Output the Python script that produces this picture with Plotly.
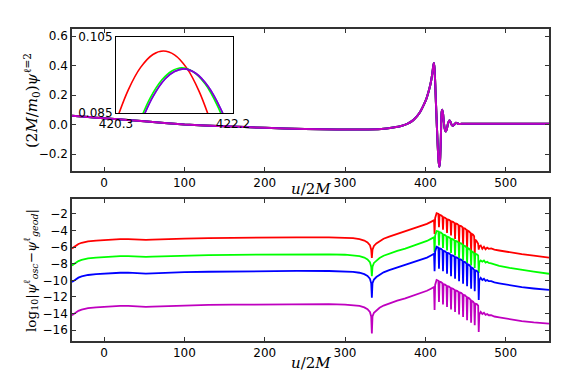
import plotly.graph_objects as go

# ---- top panel: waveform psi(u) ----
u_wave = [-40, -20, 0, 50, 100, 150, 200, 250, 290, 320,
          345, 360, 370, 378, 385, 390, 394, 398, 401.5, 404.5,
          407, 408.8, 409.9, 410.6, 411.4, 412.3, 413.2, 414.2, 415.3, 416.4,
          417.3, 418.2, 419.2, 420.3, 421.07, 422, 423, 424.2, 425.5, 426.8,
          428.3, 429.8, 431.2, 433, 434.5, 436.3, 438.2, 440, 442, 445,
          460, 500, 554]
psi_wave = [0.059, 0.051, 0.043, 0.022, 0.001, -0.012, -0.022, -0.030, -0.034, -0.034,
            -0.030, -0.020, -0.010, 0.006, 0.030, 0.058, 0.090, 0.133, 0.178, 0.232,
            0.290, 0.350, 0.398, 0.418, 0.385, 0.280, 0.150, 0.010, -0.130, -0.240,
            -0.287, -0.255, -0.120, 0.083, 0.101, 0.075, 0.020, -0.030, -0.048, -0.030,
            0.008, 0.027, 0.020, -0.004, -0.009, 0.002, 0.013, 0.008, 0.003, 0.005,
            0.005, 0.005, 0.005]

# ---- inset: zoom on the second maximum ----
u_in_red = [420.30, 420.50, 420.70, 420.90, 421.07, 421.25, 421.45, 421.65, 421.85]
psi_in_red = [0.0827, 0.0911, 0.0970, 0.1004, 0.1013, 0.1003, 0.0968, 0.0907, 0.0821]
u_in_green = [420.65, 420.85, 421.05, 421.20, 421.37, 421.55, 421.75, 421.95, 422.10]
psi_in_green = [0.0813, 0.0888, 0.0938, 0.0960, 0.0969, 0.0959, 0.0926, 0.0868, 0.0809]
u_in_purple = [420.70, 420.90, 421.10, 421.25, 421.40, 421.60, 421.80, 422.00, 422.15]
psi_in_purple = [0.0823, 0.0893, 0.0940, 0.0959, 0.0966, 0.0954, 0.0919, 0.0861, 0.0802]

# ---- bottom panel: log10 |psi_osc - psi_geod| ----
u_diff = [-40, -36, -32, -28, -24, -20, -10, 0, 10, 20,
          30, 38, 45, 52, 60, 80, 100, 130, 160, 200,
          240, 280, 300, 310, 318, 324, 328, 331, 332.6, 333.4,
          334.2, 336, 339, 343, 348, 355, 365, 375, 385, 395,
          402, 407, 410.8,
          411.5, 412.2, 414, 416.3,
          417, 417.7, 419.5, 421.3,
          422, 422.7, 424.5, 426.3,
          427, 427.7, 429.5, 431.3,
          432, 432.7, 434.5, 436.3,
          437, 437.7, 439.5, 441.3,
          442, 442.7, 444.5, 446.3,
          447, 447.7, 449.5, 451.3,
          452, 452.7, 454.5, 456.3,
          457, 457.7, 459.5, 460.8,
          461.5, 462.2, 464, 465.8,
          466.5, 467.2, 469,
          471, 473, 475, 477, 479, 482, 486, 492, 505, 520, 535, 554]

log_red = [-6.15, -5.85, -5.62, -5.47, -5.37, -5.30, -5.20, -5.13, -5.07, -5.03,
           -5.02, -5.06, -5.12, -5.13, -5.10, -5.02, -4.96, -4.91, -4.87, -4.83,
           -4.81, -4.82, -4.86, -4.92, -5.03, -5.20, -5.42, -5.75, -6.30, -7.30,
           -6.30, -5.85, -5.55, -5.25, -4.98, -4.72, -4.40, -4.12, -3.80, -3.45,
           -3.20, -2.95, -2.75,
           -4.40, -2.50, -1.90, -2.00,
           -3.60, -2.10, -2.15, -2.30,
           -3.90, -2.40, -2.45, -2.60,
           -4.30, -2.65, -2.70, -2.85,
           -4.60, -2.90, -2.95, -3.10,
           -5.00, -3.15, -3.20, -3.35,
           -5.40, -3.40, -3.45, -3.60,
           -5.80, -3.70, -3.75, -3.95,
           -6.20, -4.00, -4.10, -4.30,
           -6.60, -4.40, -4.50, -4.70,
           -7.00, -5.10, -5.30, -5.60,
           -6.30, -5.90, -5.80,
           -6.20, -5.95, -6.25, -6.05, -6.20, -6.15, -6.30, -6.40, -6.62, -6.85, -7.03, -7.25]

log_green = [-8.20, -7.90, -7.67, -7.52, -7.42, -7.35, -7.25, -7.18, -7.12, -7.08,
             -7.07, -7.11, -7.17, -7.18, -7.15, -7.07, -7.01, -6.96, -6.92, -6.88,
             -6.86, -6.87, -6.91, -6.97, -7.08, -7.25, -7.47, -7.80, -8.35, -9.50,
             -8.35, -7.90, -7.60, -7.30, -7.03, -6.77, -6.45, -6.17, -5.85, -5.50,
             -5.25, -5.00, -4.80,
             -6.60, -4.60, -4.05, -4.10,
             -5.80, -4.20, -4.25, -4.40,
             -6.10, -4.50, -4.55, -4.70,
             -6.40, -4.75, -4.80, -4.95,
             -6.70, -5.00, -5.05, -5.20,
             -7.00, -5.25, -5.30, -5.45,
             -7.30, -5.50, -5.55, -5.70,
             -7.60, -5.80, -5.85, -6.05,
             -7.90, -6.10, -6.20, -6.40,
             -8.20, -6.50, -6.60, -6.75,
             -8.50, -6.80, -6.85, -7.00,
             -9.10, -7.80, -7.60,
             -7.75, -7.60, -7.85, -7.75, -7.90, -7.95, -8.10, -8.25, -8.50, -8.75, -8.95, -9.20]

log_blue = [-10.20, -9.90, -9.67, -9.52, -9.42, -9.35, -9.25, -9.18, -9.12, -9.08,
            -9.07, -9.11, -9.17, -9.18, -9.15, -9.07, -9.01, -8.96, -8.92, -8.88,
            -8.86, -8.87, -8.91, -8.97, -9.08, -9.25, -9.47, -9.80, -10.35, -12.10,
            -10.35, -9.90, -9.60, -9.30, -9.03, -8.77, -8.45, -8.17, -7.85, -7.50,
            -7.25, -7.00, -6.80,
            -8.90, -6.55, -5.95, -6.05,
            -8.60, -6.15, -6.20, -6.35,
            -8.90, -6.45, -6.50, -6.65,
            -9.20, -6.70, -6.75, -6.90,
            -9.50, -6.95, -7.00, -7.15,
            -9.80, -7.20, -7.25, -7.40,
            -10.10, -7.45, -7.50, -7.65,
            -10.40, -7.75, -7.80, -8.00,
            -10.70, -8.05, -8.15, -8.35,
            -11.00, -8.45, -8.55, -8.75,
            -11.30, -8.80, -8.85, -9.05,
            -12.35, -10.00, -9.70,
            -9.95, -9.80, -10.05, -9.95, -10.10, -10.10, -10.25, -10.35, -10.60, -10.82, -10.98, -11.15]

log_magenta = [-14.20, -13.90, -13.67, -13.52, -13.42, -13.35, -13.25, -13.18, -13.12, -13.08,
               -13.07, -13.11, -13.17, -13.18, -13.15, -13.07, -13.01, -12.96, -12.92, -12.88,
               -12.86, -12.87, -12.91, -12.97, -13.08, -13.25, -13.47, -13.80, -14.35, -16.40,
               -14.35, -13.90, -13.60, -13.30, -13.03, -12.77, -12.45, -12.17, -11.85, -11.50,
               -11.25, -11.00, -10.80,
               -13.55, -10.55, -9.95, -10.05,
               -12.60, -10.15, -10.20, -10.35,
               -12.90, -10.45, -10.50, -10.65,
               -13.20, -10.70, -10.75, -10.90,
               -13.50, -10.95, -11.00, -11.15,
               -13.80, -11.20, -11.25, -11.40,
               -14.10, -11.45, -11.50, -11.65,
               -14.40, -11.75, -11.80, -12.00,
               -14.80, -12.05, -12.15, -12.35,
               -15.10, -12.45, -12.55, -12.75,
               -15.40, -12.80, -12.85, -13.05,
               -16.20, -14.10, -13.80,
               -14.05, -13.90, -14.15, -14.05, -14.20, -14.20, -14.35, -14.45, -14.68, -14.90, -15.05, -15.20]

x_ticks = [0, 100, 200, 300, 400, 500]
psi_ticks = [-0.2, 0.0, 0.2, 0.4, 0.6]
log_ticks = [-16, -14, -12, -10, -8, -6, -4, -2]

RED, GREEN, BLUE, MAG = '#ff0000', '#00ff00', '#0000ff', '#bf00bf'

fig = go.Figure()

for col in (RED, GREEN, BLUE, MAG):
    fig.add_trace(go.Scatter(x=u_wave, y=psi_wave, mode='lines', xaxis='x', yaxis='y',
                             line=dict(color=col, width=2, shape='spline', smoothing=0.6)))

for col, series in ((RED, log_red), (GREEN, log_green), (BLUE, log_blue), (MAG, log_magenta)):
    fig.add_trace(go.Scatter(x=u_diff, y=series, mode='lines', xaxis='x2', yaxis='y2',
                             line=dict(color=col, width=1.8)))

inset = [(u_in_red, psi_in_red, RED, 1), (u_in_green, psi_in_green, GREEN, 1),
         (u_in_purple, psi_in_purple, BLUE, 1), (u_in_purple, psi_in_purple, MAG, 0.7)]
for xs, ys, col, op in inset:
    fig.add_trace(go.Scatter(x=xs, y=ys, mode='lines', xaxis='x3', yaxis='y3', opacity=op,
                             line=dict(color=col, width=1.6, shape='spline')))

tick_font = dict(family='DejaVu Sans', size=12, color='black')
frame = dict(showline=True, linecolor='#333333', linewidth=1.5, mirror='ticks',
             ticks='inside', ticklen=4, tickcolor='#333333', tickwidth=1,
             showgrid=False, zeroline=False, tickfont=tick_font)

# the page body adds an 8px offset, so the figure is 8px smaller than the window
fig.update_layout(
    width=573, height=372, autosize=False,
    margin=dict(l=64, r=32, t=21, b=39),
    paper_bgcolor='white', plot_bgcolor='white',
    showlegend=False,
    xaxis=dict(domain=[0, 1], anchor='y', range=[-40, 554], tickvals=x_ticks, **frame),
    yaxis=dict(domain=[0.5449, 1], anchor='x', range=[-0.315, 0.648], tickvals=psi_ticks,
               tickformat='.1f', **frame),
    xaxis2=dict(domain=[0, 1], anchor='y2', range=[-40, 554], tickvals=x_ticks, **frame),
    yaxis2=dict(domain=[0, 0.4551], anchor='x2', range=[-17.3, -0.2], tickvals=log_ticks, **frame),
    xaxis3=dict(domain=[0.0922, 0.3375], anchor='y3', range=[420.2999, 422.2001],
                tickvals=[420.3, 422.2], ticktext=['420.3', '422.2'],
                showline=True, linecolor='black', linewidth=1, mirror=True, ticks='',
                showgrid=False, zeroline=False, tickfont=tick_font),
    yaxis3=dict(domain=[0.7308, 0.9744], anchor='x3', range=[0.08499, 0.10501],
                tickvals=[0.085, 0.105], ticktext=['0.085', '0.105'],
                showline=True, linecolor='black', linewidth=1, mirror=True, ticks='',
                showgrid=False, zeroline=False, tickfont=tick_font),
)

title_font = dict(family='DejaVu Serif', size=15, color='black')
fig.add_annotation(text='<i>u</i>/2<i>M</i>', xref='paper', yref='paper', x=0.5, y=0.488,
                   showarrow=False, font=title_font, xanchor='center', yanchor='middle')
fig.add_annotation(text='<i>u</i>/2<i>M</i>', xref='paper', yref='paper', x=0.5, y=-0.07,
                   showarrow=False, font=title_font, xanchor='center', yanchor='middle')
fig.add_annotation(text='(2<i>M</i>/<i>m</i><sub>0</sub>)<i>ψ</i><sup>ℓ=2</sup>',
                   xref='paper', yref='paper', x=-0.086, y=0.7724, textangle=-90,
                   showarrow=False, font=title_font, xanchor='center', yanchor='middle')
fig.add_annotation(text='log<sub>10</sub>|<i>ψ</i><sup>ℓ</sup><sub><i>osc</i></sub>−<i>ψ</i><sup>ℓ</sup><sub><i>geod</i></sub>|',
                   xref='paper', yref='paper', x=-0.086, y=0.2276, textangle=-90,
                   showarrow=False, font=dict(family='DejaVu Serif', size=13.5, color='black'),
                   xanchor='center', yanchor='middle')

fig.write_html("out.html")
